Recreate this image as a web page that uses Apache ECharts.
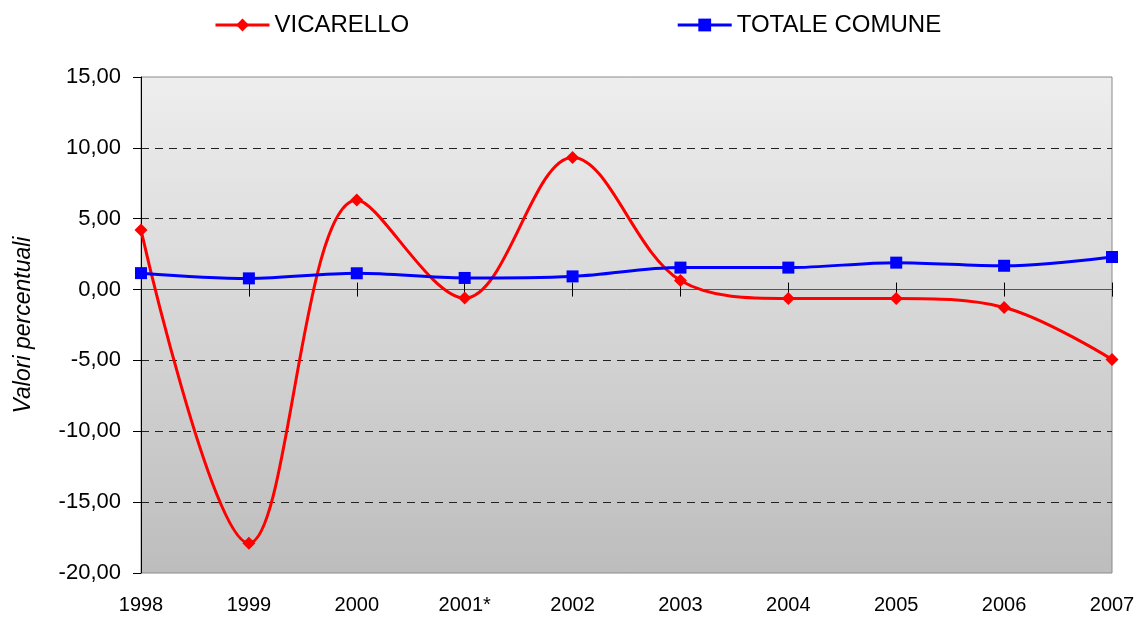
<!DOCTYPE html>
<html>
<head>
<meta charset="utf-8">
<script src="https://cdn.jsdelivr.net/npm/echarts@6/dist/echarts.min.js"></script>
<style>
html,body{margin:0;padding:0;background:#fff;}
#chart{width:1141px;height:617px;}
</style>
</head>
<body>
<div id="chart"></div>
<script>
// anni (2001* = dato stimato)
var anni = ["1998","1999","2000","2001*","2002","2003","2004","2005","2006","2007"];
var vicarello = [4.20, -17.90, 6.32, -0.60, 9.32, 0.64, -0.63, -0.63, -1.26, -4.93];
var totaleComune = [1.16, 0.79, 1.15, 0.82, 0.93, 1.55, 1.55, 1.90, 1.68, 2.30];
var yMin = -20, yMax = 15, yStep = 5;

function fmt(v){
    return v.toFixed(2).replace(".", ",");
}

var chart = echarts.init(document.getElementById("chart"));
var font = "'Liberation Sans', Arial, sans-serif";

var option = {
    animation: false,
    textStyle: {fontFamily: font},
    legend: {
        left: 214,
        top: 13,
        padding: 0,
        itemWidth: 54,
        itemHeight: 16,
        itemGap: 267,
        textStyle: {fontSize: 24, color: "#000", fontFamily: font},
        lineStyle: {width: 3},
        data: ["VICARELLO", "TOTALE COMUNE"]
    },
    grid: {
        left: 141,
        right: 29,
        top: 77,
        bottom: 44,
        show: true,
        borderColor: "#8a8a8a",
        borderWidth: 1,
        backgroundColor: new echarts.graphic.LinearGradient(0, 0, 0, 1, [
            {offset: 0, color: "#eeeeee"},
            {offset: 1, color: "#bdbdbd"}
        ])
    },
    xAxis: [
        {
            // etichette in basso
            type: "category",
            data: anni,
            boundaryGap: false,
            position: "bottom",
            axisLine: {show: false, onZero: false},
            axisTick: {show: false},
            axisLabel: {fontSize: 20, color: "#000", margin: 22, fontFamily: font}
        },
        {
            // asse sullo zero, tacche verso il basso
            type: "category",
            data: anni,
            boundaryGap: false,
            position: "bottom",
            axisLine: {show: true, onZero: true, onZeroAxisIndex: 0, lineStyle: {color: "#555", width: 1}},
            axisTick: {show: true, length: 7, lineStyle: {color: "#000"}},
            axisLabel: {show: false}
        },
        {
            // tacche verso l'alto
            type: "category",
            data: anni,
            boundaryGap: false,
            position: "top",
            axisLine: {show: false, onZero: true, onZeroAxisIndex: 1},
            axisTick: {show: true, length: 7, lineStyle: {color: "#000"}},
            axisLabel: {show: false}
        }
    ],
    yAxis: [
        {
            type: "value",
            min: yMin,
            max: yMax,
            interval: yStep,
            name: "Valori percentuali",
            nameLocation: "middle",
            nameGap: 106,
            nameTextStyle: {fontSize: 23, fontStyle: "italic", color: "#000", fontFamily: font},
            axisLine: {show: true, lineStyle: {color: "#000", width: 1}},
            axisTick: {show: true, length: 8, lineStyle: {color: "#000"}},
            axisLabel: {fontSize: 22, color: "#000", margin: 20, formatter: fmt, fontFamily: font},
            splitLine: {
                show: true,
                showMinLine: false,
                showMaxLine: false,
                lineStyle: {color: "#222", type: [8, 6], width: 1}
            }
        },
        {
            type: "value",
            min: yMin,
            max: yMax,
            interval: yStep,
            position: "right",
            axisLine: {show: false},
            axisTick: {show: false},
            axisLabel: {show: false},
            splitLine: {show: false}
        }
    ],
    series: [
        {
            name: "VICARELLO",
            type: "line",
            data: vicarello,
            smooth: 0.35,
            symbol: "diamond",
            symbolSize: 13,
            itemStyle: {color: "#ff0000"},
            lineStyle: {color: "#ff0000", width: 3}
        },
        {
            name: "TOTALE COMUNE",
            type: "line",
            data: totaleComune,
            smooth: 0.35,
            symbol: "rect",
            symbolSize: 12,
            itemStyle: {color: "#0000ff"},
            lineStyle: {color: "#0000ff", width: 3}
        }
    ]
};

chart.setOption(option);
</script>
</body>
</html>
